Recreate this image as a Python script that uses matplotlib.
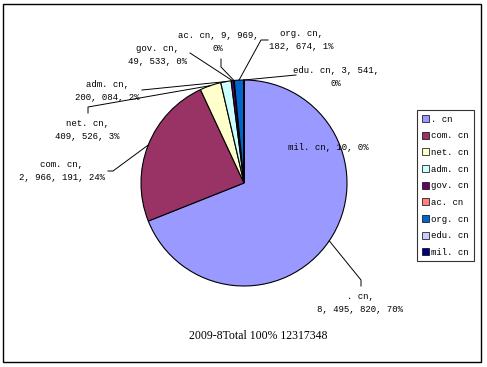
import numpy as np
import matplotlib
matplotlib.use("Agg")
import matplotlib.pyplot as plt
from matplotlib.patches import Rectangle, Patch

# data
domains = [".cn", "com.cn", "net.cn", "adm.cn", "gov.cn", "ac.cn", "org.cn", "edu.cn", "mil.cn"]
counts = [8495820, 2966191, 409526, 200084, 49533, 9969, 182674, 3541, 10]
labels = [". cn,\n8, 495, 820, 70%",
          "com. cn,\n2, 966, 191, 24%",
          "net. cn,\n409, 526, 3%",
          "adm. cn,\n200, 084, 2%",
          "gov. cn,\n49, 533, 0%",
          "ac. cn, 9, 969,\n0%",
          "org. cn,\n182, 674, 1%",
          "edu. cn, 3, 541,\n0%",
          "mil. cn, 10, 0%"]
legend_labels = [". cn", "com. cn", "net. cn", "adm. cn", "gov. cn", "ac. cn", "org. cn", "edu. cn", "mil. cn"]
title = "2009-8Total 100% 12317348"

colors = ["#9999FF", "#993366", "#FFFFCC", "#CCFFFF", "#660066",
          "#FF8080", "#0066CC", "#CCCCFF", "#000080"]

W, H = 487, 367
cx, cy, R = 244, 183, 103

fig = plt.figure(figsize=(W / 100, H / 100), dpi=100)
ax = fig.add_axes([(cx - R) / W, (H - cy - R) / H, 2 * R / W, 2 * R / H])

wedges, _ = ax.pie(counts, colors=colors, startangle=90, counterclock=False,
                   radius=1, wedgeprops=dict(edgecolor="black", linewidth=0.8))
ax.set_xlim(-1, 1)
ax.set_ylim(-1, 1)
ax.axis("off")


def px(x, y):
    return (x - cx) / R, (cy - y) / R


# label centres and leader paths (pixels), None = no leader
text_pos = [(360, 303), (62, 171), (87, 130), (107, 91), (158, 55),
            (218, 42), (301, 40), (336, 77), (328, 147)]
leaders = [[(361, 280), (361, 286)],
           [(113, 171), (108, 171)],
           [(88, 107), (88, 113)],
           [(142, 90)],
           [(190, 53)],
           [(221, 67), (221, 59)],
           [(261, 40), (268, 40)],
           [(296, 75)],
           None]

mono = "Liberation Mono"
for w, lab, tp, path in zip(wedges, labels, text_pos, leaders):
    tx, ty = px(*tp)
    ax.text(tx, ty, lab, ha="center", va="center", fontsize=6.5,
            family=mono, linespacing=1.6)
    if path is None:
        continue
    ang = np.deg2rad((w.theta1 + w.theta2) / 2)
    xs = [np.cos(ang)] + [px(*p)[0] for p in path]
    ys = [np.sin(ang)] + [px(*p)[1] for p in path]
    ax.plot(xs, ys, color="black", lw=0.7, clip_on=False)

fig.text(258 / W, 1 - 336 / H, title, ha="center", va="center",
         fontsize=8.5, family="Liberation Serif")

handles = [Patch(facecolor=c, edgecolor="black", linewidth=0.5) for c in colors]
leg = fig.legend(handles, legend_labels, loc="upper left",
                 bbox_to_anchor=(417 / W, 1 - 110 / H), bbox_transform=fig.transFigure,
                 borderaxespad=0, fancybox=False, edgecolor="black",
                 prop=dict(family=mono, size=6.5), handlelength=0.8, handleheight=0.8,
                 handletextpad=0.3, labelspacing=0.85, borderpad=0.5)
leg.get_frame().set_linewidth(0.8)

fig.add_artist(Rectangle((3 / W, 1 - 362 / H), 478 / W, 358 / H,
                         transform=fig.transFigure, fill=False,
                         edgecolor="black", linewidth=1))

fig.savefig("out.png", dpi=100)
